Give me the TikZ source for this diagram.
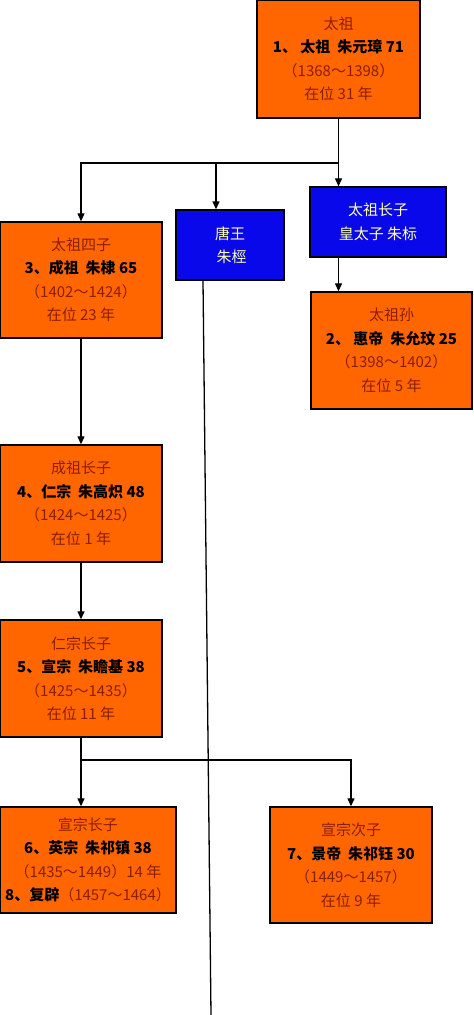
\documentclass[tikz,border=0pt]{standalone}
\usepackage{fontspec}
\newfontfamily\cjk{Noto Sans CJK SC}
\usetikzlibrary{arrows.meta}
\definecolor{boxorange}{RGB}{255,102,0}
\definecolor{boxblue}{RGB}{8,8,235}
\definecolor{namered}{RGB}{140,30,0}
\definecolor{nameyellow}{RGB}{255,255,175}
\tikzset{
  emperor/.style={draw=black, line width=1.4pt, fill=boxorange, align=center,
    text=namered, font=\cjk\fontsize{15}{23.5}\selectfont, inner sep=0pt},
  prince/.style={draw=black, line width=1.4pt, fill=boxblue, align=center,
    text=nameyellow, font=\cjk\fontsize{15}{23.5}\selectfont, inner sep=0pt},
  link/.style={line width=1.3pt, black},
  arr/.style={link, -{Triangle[length=8pt,width=7pt]}},
}
\newcommand{\bname}[1]{{\bfseries\color{black}#1}}
\begin{document}
\begin{tikzpicture}[x=1pt,y=-1pt]
  \useasboundingbox (0,0) rectangle (474,1015);
  % generation 1
  \node[emperor, minimum width=163pt, minimum height=118pt] (taizu) at (338.5,59)
    {太祖\\ \bname{1、 太祖\ \ 朱元璋 71}\\ （1368～1398）\\ 在位 31 年};
  % sons of taizu
  \node[emperor, minimum width=162pt, minimum height=116pt] (chengzu) at (81,280)
    {太祖四子\\ \bname{3、成祖\ \ 朱棣 65}\\ （1402～1424）\\ 在位 23 年};
  \node[prince, minimum width=108pt, minimum height=70pt] (tang) at (230,245)
    {唐王\\ \ 朱桱};
  \node[prince, minimum width=136pt, minimum height=70pt] (biao) at (378,222)
    {太祖长子\\ 皇太子\ 朱标};
  \node[emperor, minimum width=161pt, minimum height=117pt] (huidi) at (391.5,350.5)
    {太祖孙\\ \bname{2、 惠帝\ \ 朱允玟 25}\\ （1398～1402）\\ 在位 5 年};
  % line of chengzu
  \node[emperor, minimum width=162pt, minimum height=117pt] (renzong) at (81,503.5)
    {成祖长子\\ \bname{4、仁宗\ \ 朱高炽 48}\\ （1424～1425）\\ 在位 1 年};
  \node[emperor, minimum width=162pt, minimum height=117pt] (xuanzong) at (81,678.5)
    {仁宗长子\\ \bname{5、宣宗\ \ 朱瞻基 38}\\ （1425～1435）\\ 在位 11 年};
  \node[emperor, minimum width=176pt, minimum height=106pt] (yingzong) at (88,860)
    {宣宗长子\\ \bname{6、英宗\ \ 朱祁镇 38}\\ （1435～1449）14 年\\ \bname{8、复辟}（1457～1464）};
  \node[emperor, minimum width=162pt, minimum height=116pt] (jingdi) at (351,865)
    {宣宗次子\\ \bname{7、景帝\ \ 朱祁钰 30}\\ （1449～1457）\\ 在位 9 年};
  % connectors
  \coordinate (fork1) at (338.5,163);
  \coordinate (fork2) at (81,760);
  \coordinate (tangend) at (211,1015);
  \draw[link] (taizu.south) -- (fork1);
  \draw[arr] (fork1) -| (chengzu.north);
  \draw[arr] (fork1) -| ([xshift=-14pt]tang.north);
  \draw[arr] (fork1) -- (fork1 |- biao.north);
  \draw[arr] (fork1 |- biao.south) -- (fork1 |- huidi.north);
  \draw[link] ([xshift=-27pt]tang.south) -- (tangend);
  \draw[arr] (chengzu.south) -- (renzong.north);
  \draw[arr] (renzong.south) -- (xuanzong.north);
  \draw[link] (xuanzong.south) -- (fork2);
  \draw[arr] (fork2) -- (fork2 |- yingzong.north);
  \draw[arr] (fork2) -| (jingdi.north);
\end{tikzpicture}
\end{document}
